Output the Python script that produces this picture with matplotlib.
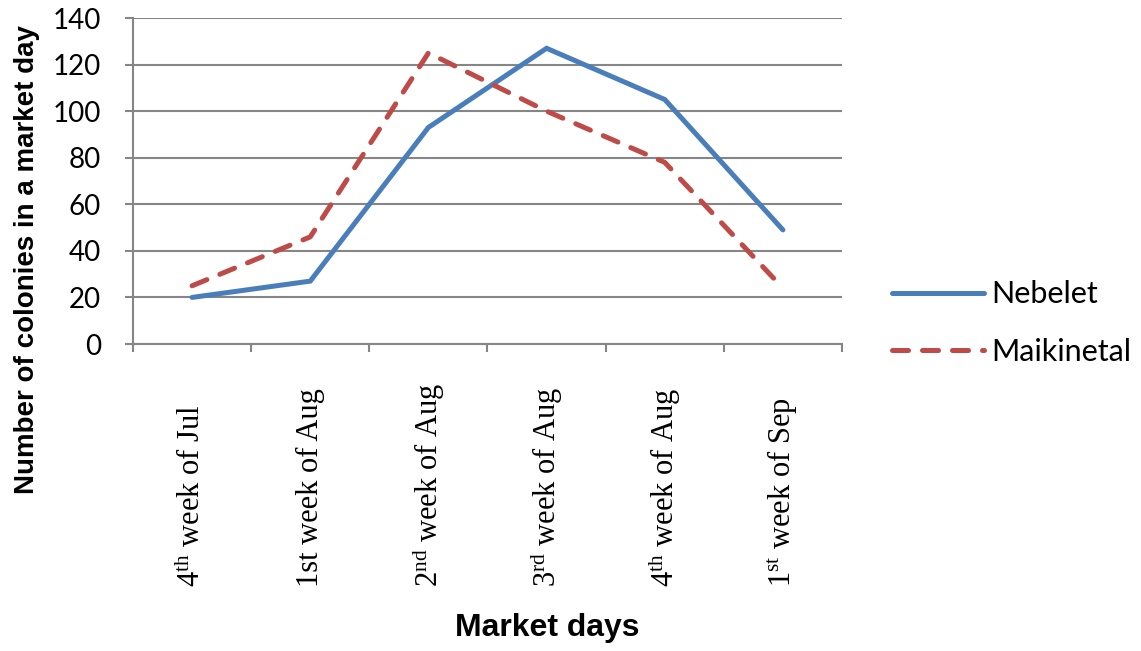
import matplotlib
matplotlib.use('Agg')
import matplotlib.pyplot as plt
import numpy as np

# data
semanas = [r'4$^{\mathrm{th}}$ week of Jul', '1st week of Aug', r'2$^{\mathrm{nd}}$ week of Aug',
           r'3$^{\mathrm{rd}}$ week of Aug', r'4$^{\mathrm{th}}$ week of Aug', r'1$^{\mathrm{st}}$ week of Sep']
nebelet = [20, 27, 93, 127, 105, 49]
maikinetal = [25, 46, 125, 100, 78, 24]
y_ticks = [0, 20, 40, 60, 80, 100, 120, 140]

plt.rcParams['mathtext.fontset'] = 'custom'
plt.rcParams['mathtext.rm'] = 'Liberation Serif'
plt.rcParams['mathtext.it'] = 'Liberation Serif:italic'

cinza = '#868686'

fig = plt.figure(figsize=(11.41, 6.51), dpi=100)
ax = fig.add_axes([0.11656, 0.47158, 0.62138, 0.50077])

x = np.arange(len(semanas))
ax.plot(x, nebelet, color='#4A7EBB', lw=3.6, solid_capstyle='round', solid_joinstyle='miter',
        label='Nebelet')
ax.plot(x, maikinetal, color='#BE4B48', lw=3.6, dashes=(3.2, 2.8), dash_capstyle='round',
        label='Maikinetal')

ax.set_xlim(-0.5, len(semanas) - 0.5)
ax.set_ylim(0, 140)
ax.set_yticks(y_ticks)
ax.yaxis.grid(True, color=cinza, lw=1.5)
ax.set_axisbelow(True)

for s in ['top', 'right']:
    ax.spines[s].set_visible(False)
for s in ['left', 'bottom']:
    ax.spines[s].set_color(cinza)
    ax.spines[s].set_linewidth(1.5)

ax.tick_params(axis='y', length=6, width=1.5, color=cinza, pad=17)
for t in ax.get_yticklabels():
    t.set_fontfamily('Lato')
    t.set_fontsize(20)

# category ticks at the boundaries, labels at the centres
ax.set_xticks(x)
ax.set_xticks(np.arange(len(semanas) + 1) - 0.5, minor=True)
ax.tick_params(axis='x', which='major', length=0, pad=175)
ax.tick_params(axis='x', which='minor', length=6, width=1.5, color=cinza)
ax.set_xticklabels(semanas, rotation=90, va='bottom', ha='center',
                   fontfamily='Liberation Serif', fontsize=22)

fig.text(0.0237, 0.6006, 'Number of colonies in a market day', rotation=90,
         ha='center', va='center', fontfamily='Liberation Sans', fontweight='bold', fontsize=20)
fig.text(0.48, 0.035, 'Market days', ha='center', va='center',
         fontfamily='Liberation Sans', fontweight='bold', fontsize=23)

leg = fig.legend(loc='center left', bbox_to_anchor=(892/1141, 1 - 323/651), frameon=False,
                 borderpad=0, borderaxespad=0, handlelength=3.0, handletextpad=0.25,
                 labelspacing=0.95, prop={'family': 'Lato', 'size': 22})

plt.savefig('out.png', dpi=100)
